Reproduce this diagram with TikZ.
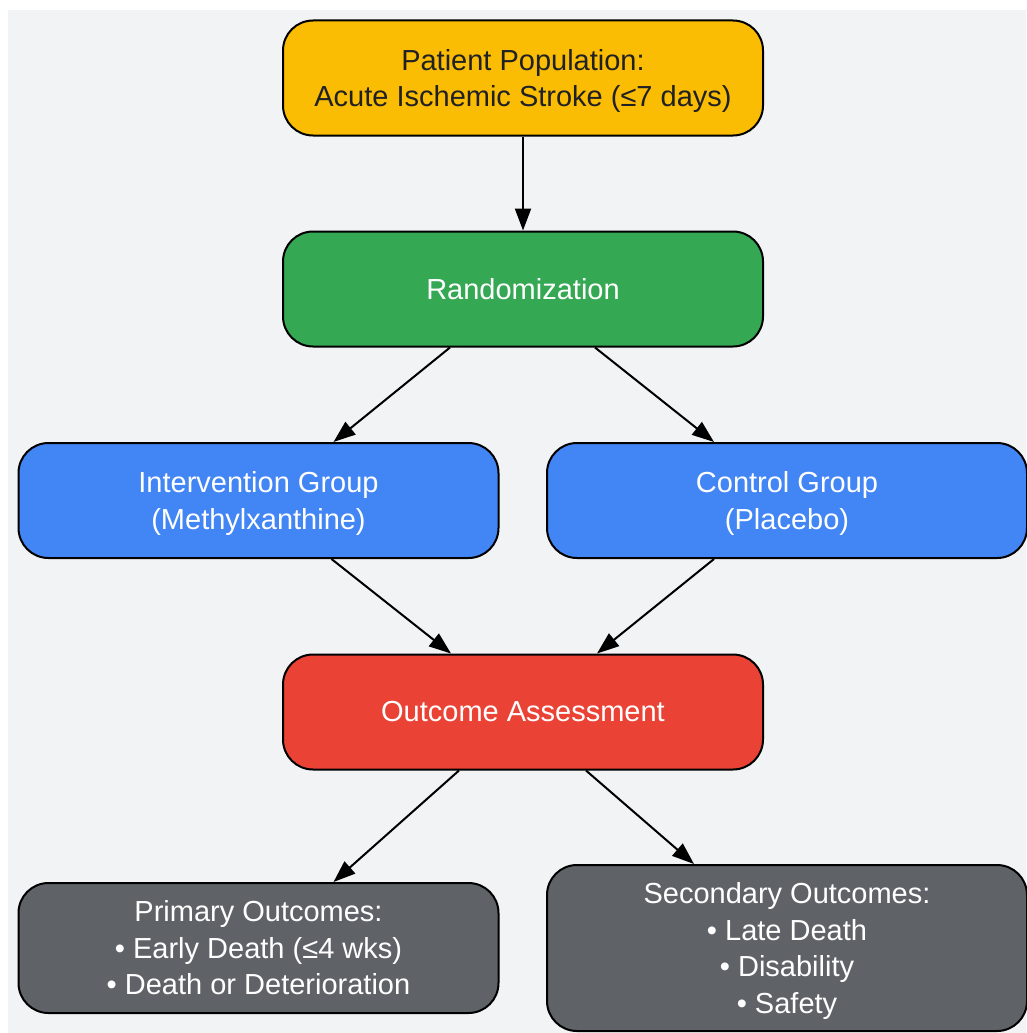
\documentclass[tikz,border=0pt]{standalone}
\usepackage{fontspec}
\setmainfont{Liberation Sans}
\usetikzlibrary{arrows.meta}
\definecolor{bg}{HTML}{F1F3F4}
\definecolor{cyellow}{HTML}{FBBC04}
\definecolor{cgreen}{HTML}{34A853}
\definecolor{cblue}{HTML}{4285F4}
\definecolor{cred}{HTML}{EA4335}
\definecolor{cgray}{HTML}{5F6368}
\definecolor{ctext}{HTML}{202124}
\newcommand{\toppad}{\rule{0pt}{27pt}}
\tikzset{
  box/.style={draw=black, line width=2pt, rounded corners=30pt, minimum width=480pt,
    minimum height=115pt, align=center, text=white, inner sep=0pt,
    font=\fontsize{29}{36.5}\selectfont},
  conn/.style={draw=black, line width=2pt, -{Triangle[length=22pt,width=16pt]}}
}
\begin{document}
\begin{tikzpicture}[x=1pt,y=-1pt]
\useasboundingbox (0,0) rectangle (1026,1033);
\fill[bg] (8,10) rectangle (1026,1033);
\node[box, fill=cyellow, text=ctext] (pop) at (523,78) {\toppad Patient Population:\\Acute Ischemic Stroke (≤7 days)};
\node[box, fill=cgreen] (rand) at (523,289) {Randomization};
\node[box, fill=cblue] (int) at (258.5,500.5) {\toppad Intervention Group\\(Methylxanthine)};
\node[box, fill=cblue] (ctl) at (787,500.5) {\toppad Control Group\\(Placebo)};
\node[box, fill=cred] (out) at (523,712) {Outcome Assessment};
\node[box, fill=cgray, minimum height=130pt] (prim) at (258.5,948) {Primary Outcomes:\\• Early Death (≤4 wks)\\• Death or Deterioration};
\node[box, fill=cgray, minimum height=166pt] (sec) at (787,948) {\toppad Secondary Outcomes:\\• Late Death\\• Disability\\• Safety};
\draw[conn] (pop.south) -- (rand.north);
\draw[conn] ([xshift=-73pt]rand.south) -- ([xshift=75pt]int.north);
\draw[conn] ([xshift=72pt]rand.south) -- ([xshift=-73pt]ctl.north);
\draw[conn] ([xshift=73pt]int.south) -- ([xshift=-72pt]out.north);
\draw[conn] ([xshift=-73pt]ctl.south) -- ([xshift=74pt]out.north);
\draw[conn] ([xshift=-64pt]out.south) -- ([xshift=75pt]prim.north);
\draw[conn] ([xshift=63pt]out.south) -- ([xshift=-93pt]sec.north);
\end{tikzpicture}
\end{document}
